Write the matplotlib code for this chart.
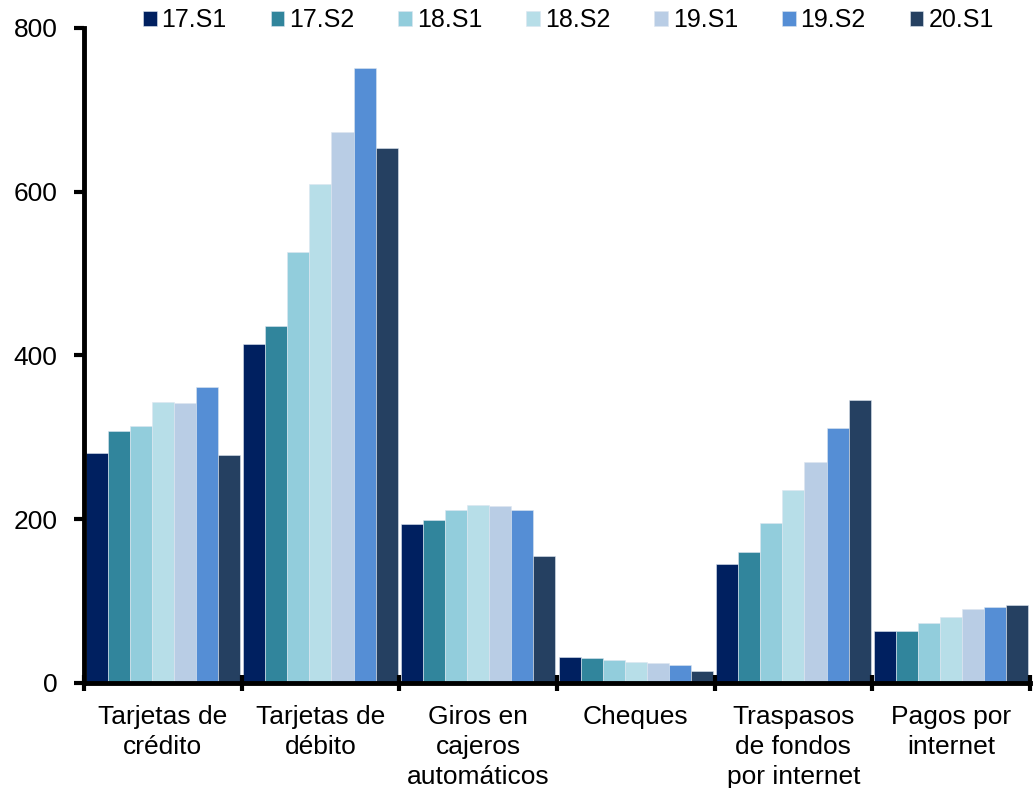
import matplotlib

matplotlib.use("Agg")
import matplotlib.pyplot as plt
import numpy as np

categories = [
    "Tarjetas de\ncrédito",
    "Tarjetas de\ndébito",
    "Giros en\ncajeros\nautomáticos",
    "Cheques",
    "Traspasos\nde fondos\npor internet",
    "Pagos por\ninternet",
]
periods = ["17.S1", "17.S2", "18.S1", "18.S2", "19.S1", "19.S2", "20.S1"]
colors = ["#002060", "#31859C", "#92CDDC", "#B7DEE8", "#B9CDE5", "#558ED5", "#254061"]

s17_1 = [281, 414, 194, 32, 145, 63]
s17_2 = [308, 436, 199, 30, 160, 63]
s18_1 = [314, 526, 211, 28, 195, 73]
s18_2 = [343, 610, 217, 26, 236, 81]
s19_1 = [342, 673, 216, 24, 270, 90]
s19_2 = [361, 751, 211, 22, 311, 93]
s20_1 = [278, 654, 155, 14, 346, 95]
series = [s17_1, s17_2, s18_1, s18_2, s19_1, s19_2, s20_1]

plt.rcParams["font.family"] = ["Liberation Sans", "DejaVu Sans"]

fig = plt.figure(figsize=(10.33, 7.88), dpi=100)
ax = fig.add_axes([0.0813, 0.1333, 0.9157, 0.8312])

x = np.arange(len(categories))
n = len(series)
w = 0.98 / n
for i, (vals, c, lab) in enumerate(zip(series, colors, periods)):
    ax.bar(x - 0.49 + w * (i + 0.5), vals, width=w, color=c, label=lab,
           edgecolor="#dde6f0", linewidth=0.4)

ax.set_xlim(-0.5, len(categories) - 0.5)
ax.set_ylim(0, 800)
ax.set_yticks([0, 200, 400, 600, 800])
ax.tick_params(axis="y", labelsize=19, width=3, length=7, direction="out", pad=12)

ax.set_xticks(x)
ax.set_xticklabels(categories, fontsize=19, linespacing=1.3)
ax.tick_params(axis="x", which="major", length=0, pad=16)
ax.set_xticks(np.arange(-0.5, len(categories)), minor=True)
ax.tick_params(axis="x", which="minor", width=3, length=12, direction="inout")

for side in ("top", "right"):
    ax.spines[side].set_visible(False)
for side in ("left", "bottom"):
    ax.spines[side].set_linewidth(3.5)

ax.legend(loc="upper center", bbox_to_anchor=(0.512, 1.045), ncol=7, frameon=False,
          fontsize=18, handlelength=0.55, handleheight=0.55, handletextpad=0.2,
          columnspacing=1.75, borderaxespad=0)

fig.savefig("out.png", dpi=100)
